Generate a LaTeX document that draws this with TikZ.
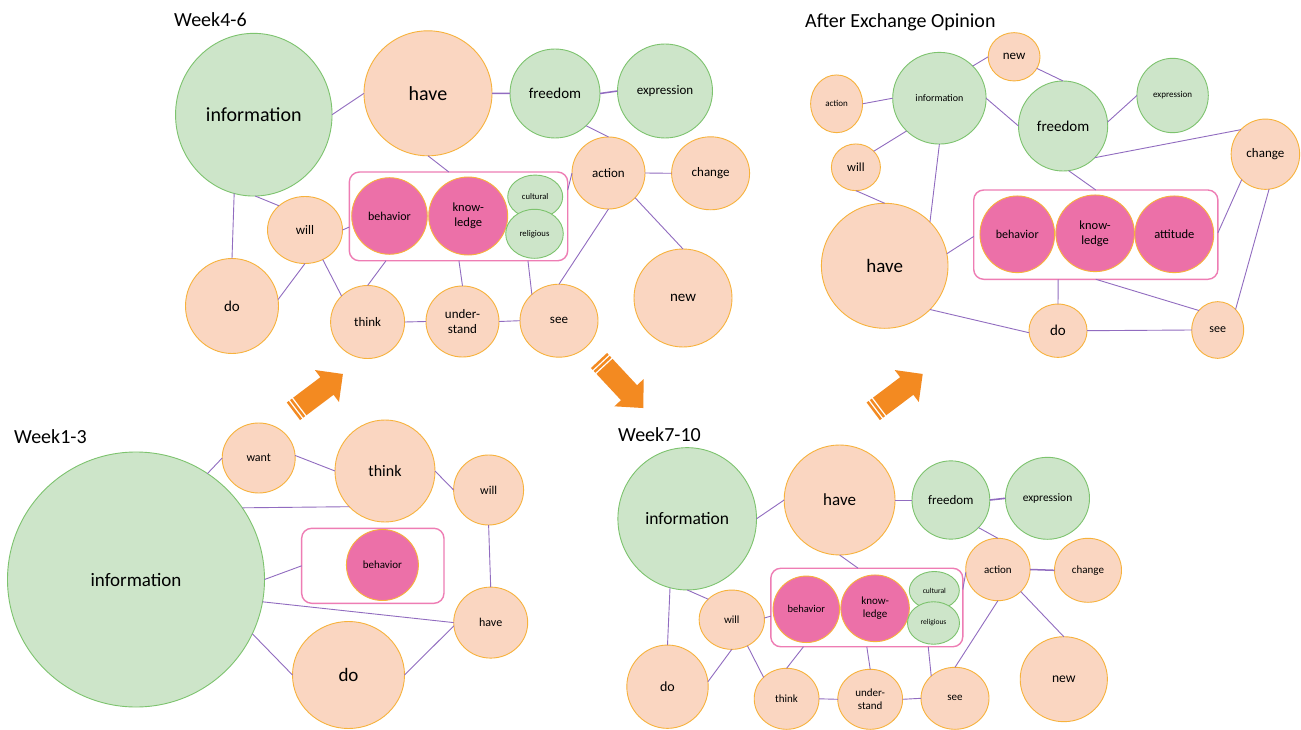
\documentclass[tikz,border=0pt]{standalone}
\usepackage{fontspec}
\setmainfont{Carlito}
\usetikzlibrary{shapes.geometric,calc}
\definecolor{pfill}{RGB}{250,214,193}
\definecolor{pline}{RGB}{247,178,60}
\definecolor{gfill}{RGB}{205,229,201}
\definecolor{gline}{RGB}{125,195,110}
\definecolor{kfill}{RGB}{236,112,168}
\definecolor{bxline}{RGB}{238,125,180}
\definecolor{edgec}{RGB}{145,108,192}
\definecolor{arrc}{RGB}{243,138,33}
\tikzset{
 bub/.style={ellipse, inner sep=0pt, outer sep=0pt, line width=0.9pt, align=center, text=black},
 pe/.style={bub, draw=pline, fill=pfill},
 gr/.style={bub, draw=gline, fill=gfill},
 pk/.style={bub, draw=pline, fill=kfill},
 grp/.style={rectangle, draw=bxline, fill=white, line width=1.4pt, rounded corners=10pt, inner sep=0pt, outer sep=0pt},
 lk/.style={draw=edgec, line width=0.9pt},
 sz/.style 2 args={minimum width=#1pt, minimum height=#2pt},
 fs/.style={font=\fontsize{#1}{#1}\selectfont},
 ttl/.style={anchor=base west, inner sep=0pt, font=\fontsize{20}{20}\selectfont, text=black}
}
\begin{document}
\begin{tikzpicture}[x=1pt,y=-1pt]
\fill[white] (0,0) rectangle (1301,730);
\path[use as bounding box] (0,0) rectangle (1301,730);

% titles
\node[ttl] (t1) at (14,443) {Week1-3};
\node[ttl] (t2) at (174,26.5) {Week4-6};
\node[ttl] (t3) at (618,441.5) {Week7-10};
\node[ttl] (t4) at (805,28) {After Exchange Opinion};

% ---------- Week1-3 ----------
\node[gr, sz={257}{255}, fs=19] (A-info) at (136,579.5) {information};
\node[pe, sz={73}{70}, fs=12] (A-want) at (258.7,458) {want};
\node[pe, sz={100}{102}, fs=16] (A-think) at (385,471) {think};
\node[pe, sz={70}{70}, fs=12] (A-will) at (488.6,490) {will};
\node[grp, minimum width=142.3pt, minimum height=75pt] (A-box) at (372.8,565.8) {};
\node[pk, sz={72}{71}, fs=11] (A-beh) at (382.4,565) {behavior};
\node[pe, sz={74}{71}, fs=12] (A-have) at (490.7,622.6) {have};
\node[pe, sz={112}{107}, fs=19] (A-do) at (348.5,675) {do};

\draw[lk] (A-info.56.4) -- (A-want.180);
\draw[lk] (A-want.4.7) -- (A-think.180);
\draw[lk] (A-think.0) -- (A-will.180);
\draw[lk] (A-info.34.6) -- (A-think.225.4);
\draw[lk] (A-will.-90) -- (A-have.90);
\draw[lk] (A-info.0) -- (A-box.west);
\draw[lk] (A-info.-10.9) -- (A-have.180);
\draw[lk] (A-info.-25.8) -- (A-do.180);
\draw[lk] (A-do.0) -- (A-have.185);

% ---------- Week4-6 ----------
\node[gr, sz={156.5}{162.7}, fs=20] (B-info) at (253.8,114.7) {information};
\node[pe, sz={128}{125}, fs=20] (B-have) at (428,93.3) {have};
\node[gr, sz={90}{89}, fs=15] (B-free) at (555,93.5) {freedom};
\node[gr, sz={95}{94}, fs=13] (B-expr) at (665,91) {expression};
\node[pe, sz={73}{72}, fs=13] (B-act) at (608.5,173) {action};
\node[pe, sz={78}{73}, fs=13] (B-chg) at (710.6,173.3) {change};
\node[pe, sz={98}{98}, fs=15] (B-new) at (683,298) {new};
\node[pe, sz={75}{67}, fs=13] (B-will) at (305,230) {will};
\node[pe, sz={93}{95}, fs=15] (B-do) at (232,306) {do};
\node[pe, sz={74}{73}, fs=13] (B-think) at (367.6,322) {think};
\node[pe, sz={73}{71}, font=\fontsize{13}{15}\selectfont] (B-und) at (462.5,321.5) {under-\\stand};
\node[pe, sz={78}{73}, fs=13] (B-see) at (559,320.7) {see};
\node[grp, minimum width=218.4pt, minimum height=88.7pt] (B-box) at (458.5,216.4) {};
\node[pk, sz={75.6}{76.6}, fs=12] (B-beh) at (389.5,216) {behavior};
\node[pk, sz={79}{78}, font=\fontsize{12.5}{15}\selectfont] (B-know) at (468.2,216) {know-\\ledge};
\node[gr, sz={55}{43.3}, fs=8.6] (B-cult) at (535.2,196.7) {cultural};
\node[gr, sz={57.6}{49}, fs=8.7] (B-rel) at (534.5,233.8) {religious};

\draw[lk] (B-info.0) -- (B-have.180);
\draw[lk, line width=1.5pt] (B-have.0) -- (B-free.180);
\draw[lk, line width=1.5pt] (B-free.0) -- (B-expr.180);
\draw[lk] (B-free.-46) -- (B-act.90);
\draw[lk] (B-have.-90) -- ($(B-box.north west)!0.456!(B-box.north east)$);
\draw[lk] (B-info.-89) -- (B-will.137);
\draw[lk] (B-info.-104) -- (B-do.90);
\draw[lk] (B-will.0) -- ($(B-box.south west)!0.38!(B-box.north west)$);
\draw[lk] (B-will.-90) -- (B-do.8);
\draw[lk] (B-will.-59) -- (B-think.135);
\draw[lk] ($(B-box.south west)!0.168!(B-box.south east)$) -- (B-think.90);
\draw[lk] ($(B-box.south west)!0.502!(B-box.south east)$) -- (B-und.90);
\draw[lk] ($(B-box.south west)!0.818!(B-box.south east)$) -- (B-see.136);
\draw[lk] (B-think.0) -- (B-und.180);
\draw[lk] (B-und.0) -- (B-see.180);
\draw[lk] ($(B-box.south east)!0.797!(B-box.north east)$) -- (B-act.180);
\draw[lk] (B-act.-90) -- (B-see.90);
\draw[lk] (B-act.-43) -- (B-new.90);
\draw[lk] (B-act.0) -- (B-chg.180);

% ---------- Week7-10 ----------
\node[gr, sz={138.6}{142.3}, fs=17.5] (C-info) at (687.2,518.8) {information};
\node[pe, sz={110.9}{110}, fs=17] (C-have) at (839.6,500) {have};
\node[gr, sz={77.8}{78.3}, fs=13] (C-free) at (950.9,500) {freedom};
\node[gr, sz={84}{82}, fs=11.4] (C-expr) at (1047.5,498.3) {expression};
\node[pe, sz={64.4}{62.4}, fs=11] (C-act) at (997.9,569.5) {action};
\node[pe, sz={67}{64}, fs=11] (C-chg) at (1088,570.3) {change};
\node[pe, sz={87.2}{85}, fs=13.6] (C-new) at (1063.8,679.2) {new};
\node[pe, sz={65.3}{59.3}, fs=11] (C-will) at (731.8,619.7) {will};
\node[pe, sz={81.4}{83.3}, fs=14] (C-do) at (667.5,686.7) {do};
\node[pe, sz={64.8}{61}, fs=11] (C-think) at (786.6,698.8) {think};
\node[pe, sz={64.8}{60}, font=\fontsize{11}{13}\selectfont] (C-und) at (870.2,699.3) {under-\\stand};
\node[pe, sz={68}{62}, fs=11] (C-see) at (955,698.3) {see};
\node[grp, minimum width=192pt, minimum height=78.5pt] (C-box) at (866.8,607.5) {};
\node[pk, sz={66.5}{66.5}, fs=10.5] (C-beh) at (806.3,609.3) {behavior};
\node[pk, sz={68.5}{66.7}, font=\fontsize{11}{13}\selectfont] (C-know) at (875.1,608.3) {know-\\ledge};
\node[gr, sz={50}{38}, fs=7.5] (C-cult) at (934.3,590.5) {cultural};
\node[gr, sz={52}{42.5}, fs=7.5] (C-rel) at (933.5,623) {religious};

\draw[lk] (C-info.0) -- (C-have.180);
\draw[lk] (C-have.0) -- (C-free.180);
\draw[lk, line width=1.6pt] (C-free.0) -- (C-expr.180);
\draw[lk] (C-free.-45) -- (C-act.90);
\draw[lk, line width=1.5pt] (C-act.0) -- (C-chg.180);
\draw[lk] (C-act.-44.5) -- (C-new.90);
\draw[lk] (C-act.-90) -- (C-see.90);
\draw[lk] ($(C-box.south east)!0.73!(C-box.north east)$) -- (C-act.185);
\draw[lk] (C-have.-90) -- ($(C-box.north west)!0.455!(C-box.north east)$);
\draw[lk] (C-info.-90) -- (C-will.139);
\draw[lk] (C-info.-104) -- (C-do.90);
\draw[lk] (C-will.3) -- ($(C-box.south west)!0.39!(C-box.north west)$);
\draw[lk] (C-will.-90) -- (C-do.7);
\draw[lk] (C-will.-59) -- (C-think.137);
\draw[lk] ($(C-box.south west)!0.17!(C-box.south east)$) -- (C-think.90);
\draw[lk] ($(C-box.south west)!0.5!(C-box.south east)$) -- (C-und.90);
\draw[lk] ($(C-box.south west)!0.82!(C-box.south east)$) -- (C-see.137);
\draw[lk] (C-think.0) -- (C-und.180);
\draw[lk] (C-und.0) -- (C-see.180);

% ---------- After Exchange Opinion ----------
\node[gr, sz={93.4}{91.7}, fs=10] (D-info) at (939.4,98.2) {information};
\node[pe, sz={51.8}{48.3}, fs=13] (D-new) at (1014.1,56.8) {new};
\node[pe, sz={51.9}{57.7}, fs=9] (D-act) at (836.6,103.8) {action};
\node[pe, sz={49}{46.7}, fs=12.4] (D-will) at (855.9,167.3) {will};
\node[gr, sz={89.2}{90}, fs=15] (D-free) at (1063.1,126) {freedom};
\node[gr, sz={71.4}{74.4}, fs=9] (D-expr) at (1172.6,95.5) {expression};
\node[pe, sz={68.5}{70.3}, fs=13] (D-chg) at (1265.4,154.2) {change};
\node[pe, sz={126.6}{125}, fs=19] (D-have) at (884.7,265.8) {have};
\node[grp, minimum width=244.2pt, minimum height=89.3pt] (D-box) at (1095.8,234.65) {};
\node[pk, sz={74.7}{76.7}, fs=12] (D-beh) at (1017.3,234.3) {behavior};
\node[pk, sz={78.6}{76.7}, font=\fontsize{12.5}{15}\selectfont] (D-know) at (1095.1,233.3) {know-\\ledge};
\node[pk, sz={78.9}{76.7}, fs=12.5] (D-att) at (1174.3,234.3) {attitude};
\node[pe, sz={58.1}{53.3}, fs=15] (D-do) at (1058,330.7) {do};
\node[pe, sz={51.9}{56.7}, fs=12] (D-see) at (1217.7,330) {see};

\draw[lk] (D-act.0) -- (D-info.180);
\draw[lk] (D-info.44) -- (D-new.180);
\draw[lk] (D-new.-27) -- (D-free.90);
\draw[lk] (D-info.0) -- (D-free.180);
\draw[lk] (D-free.5) -- (D-expr.180);
\draw[lk] (D-info.225) -- (D-will.42);
\draw[lk] (D-will.-90) -- (D-have.90);
\draw[lk] (D-info.-90) -- (D-have.44);
\draw[lk] (D-free.-45) -- (D-chg.135);
\draw[lk] (D-free.-83) -- (D-box.north);
\draw[lk] (D-have.11) -- ($(D-box.south west)!0.48!(D-box.north west)$);
\draw[lk] ($(D-box.south east)!0.52!(D-box.north east)$) -- (D-chg.227);
\draw[lk] ($(D-box.south west)!0.346!(D-box.south east)$) -- (D-do.90);
\draw[lk] (D-box.south) -- (D-see.134);
\draw[lk] (D-have.-44) -- (D-do.184);
\draw[lk] (D-do.0) -- (D-see.180);
\draw[lk] (D-see.49) -- (D-chg.-84);

% ---------- arrows ----------
\begin{scope}[shift={(293.4,411.3)}, rotate=37, x=1pt, y=1pt]
 \fill[arrc] (0,-11) rectangle (2.5,11);
 \fill[arrc] (4,-11) rectangle (6.5,11);
 \fill[arrc] (8,-11) -- (42,-11) -- (42,-20) -- (62,0) -- (42,20) -- (42,11) -- (8,11) -- cycle;
\end{scope}
\begin{scope}[shift={(599,360.5)}, rotate=-47, x=1pt, y=1pt]
 \fill[arrc] (0,-11) rectangle (2.5,11);
 \fill[arrc] (4,-11) rectangle (6.5,11);
 \fill[arrc] (8,-11) -- (44,-11) -- (44,-20) -- (65,0) -- (44,20) -- (44,11) -- (8,11) -- cycle;
\end{scope}
\begin{scope}[shift={(873.2,411.3)}, rotate=37, x=1pt, y=1pt]
 \fill[arrc] (0,-11) rectangle (2.5,11);
 \fill[arrc] (4,-11) rectangle (6.5,11);
 \fill[arrc] (8,-11) -- (42,-11) -- (42,-20) -- (62,0) -- (42,20) -- (42,11) -- (8,11) -- cycle;
\end{scope}
\end{tikzpicture}
\end{document}
